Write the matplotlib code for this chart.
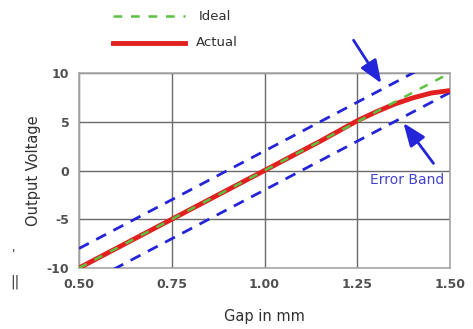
import matplotlib
matplotlib.use("Agg")
import matplotlib.pyplot as plt
import numpy as np

plt.rcParams['font.family'] = ['DejaVu Sans']

gap = [0.50, 0.55, 0.60, 0.65, 0.70, 0.75, 0.80, 0.85, 0.90, 0.95, 1.00,
       1.05, 1.10, 1.15, 1.20, 1.25, 1.30, 1.35, 1.40, 1.45, 1.50]
ideal = [-10, -9, -8, -7, -6, -5, -4, -3, -2, -1, 0,
         1, 2, 3, 4, 5, 6, 7, 8, 9, 10]
actual = [-10, -9, -8, -7, -6, -5, -4, -3, -2, -1, 0,
          1, 2, 3, 4.05, 5.1, 6.0, 6.8, 7.45, 7.95, 8.2]
band_upper = [-8, -7, -6, -5, -4, -3, -2, -1, 0, 1, 2,
              3, 4, 5, 6, 7, 8, 9, 10, 11, 12]
band_lower = [-12, -11, -10, -9, -8, -7, -6, -5, -4, -3, -2,
              -1, 0, 1, 2, 3, 4, 5, 6, 7, 8]
xticks = [0.50, 0.75, 1.00, 1.25, 1.50]
xticklabels = ["0.50", "0.75", "1.00", "1.25", "1.50"]
yticks = [-10, -5, 0, 5, 10]
yticklabels = ["-10", "-5", "0", "5", "10"]

fig = plt.figure(figsize=(4.73, 3.29), dpi=100)
ax = fig.add_axes([79/473, 1-268/329, (450-79)/473, (268-73)/329])

blue = "#2424d8"
ax.plot(gap, band_upper, color=blue, lw=2, dashes=(4, 3), zorder=3)
ax.plot(gap, band_lower, color=blue, lw=2, dashes=(4, 3), zorder=3)
ax.plot(gap, actual, color="#e32020", lw=3.5, zorder=4, solid_capstyle="butt")
ax.plot(gap, ideal, color="#5cc040", lw=1.8, dashes=(3.5, 3.5), zorder=5)

ax.set_xlim(0.5, 1.5)
ax.set_ylim(-10, 10)
ax.set_xticks(xticks)
ax.set_xticklabels(xticklabels)
ax.set_yticks(yticks)
ax.set_yticklabels(yticklabels)
ax.grid(True, color="#6a6a6a", lw=1)
ax.set_axisbelow(True)
for s in ax.spines.values():
    s.set_color("#a8a8a8")
    s.set_linewidth(1.2)
ax.tick_params(length=0, labelsize=9, labelcolor="#505050", pad=7)
for t in ax.get_xticklabels() + ax.get_yticklabels():
    t.set_fontweight("bold")
ax.set_xlabel("Gap in mm", fontsize=10.5, color="#303030", labelpad=13)
ax.set_ylabel("Output Voltage", fontsize=10.5, color="#303030", labelpad=4)

ax.annotate("", xy=(1.319, 8.7), xytext=(1.236, 13.6),
            arrowprops=dict(arrowstyle="-|>,head_length=1.4,head_width=0.55",
                            color=blue, lw=2), annotation_clip=False, zorder=6)
ax.annotate("", xy=(1.37, 5.1), xytext=(1.46, 0.5),
            arrowprops=dict(arrowstyle="-|>,head_length=1.4,head_width=0.55",
                            color=blue, lw=2), annotation_clip=False, zorder=6)
ax.text(1.385, -1.0, "Error Band", color="#4444cc", fontsize=10,
        ha="center", va="center", zorder=6)

# legend
fig.lines.append(plt.Line2D([113/473, 185/473], [1-16/329, 1-16/329],
                            color="#5cc040", lw=1.8, dashes=(3.5, 3.5),
                            transform=fig.transFigure))
fig.lines.append(plt.Line2D([113/473, 185/473], [1-43/329, 1-43/329],
                            color="#e32020", lw=3.5,
                            transform=fig.transFigure))
fig.text(199/473, 1-16/329, "Ideal", fontsize=9.5, color="#303030",
         va="center", ha="left")
fig.text(196/473, 1-43/329, "Actual", fontsize=9.5, color="#303030",
         va="center", ha="left")

fig.text(12/473, 1-255/329, "'", fontsize=9, color="#303030", va="center")
fig.text(10/473, 1-282/329, "||", fontsize=10, color="#303030", va="center")

fig.savefig("out.png", dpi=100)
